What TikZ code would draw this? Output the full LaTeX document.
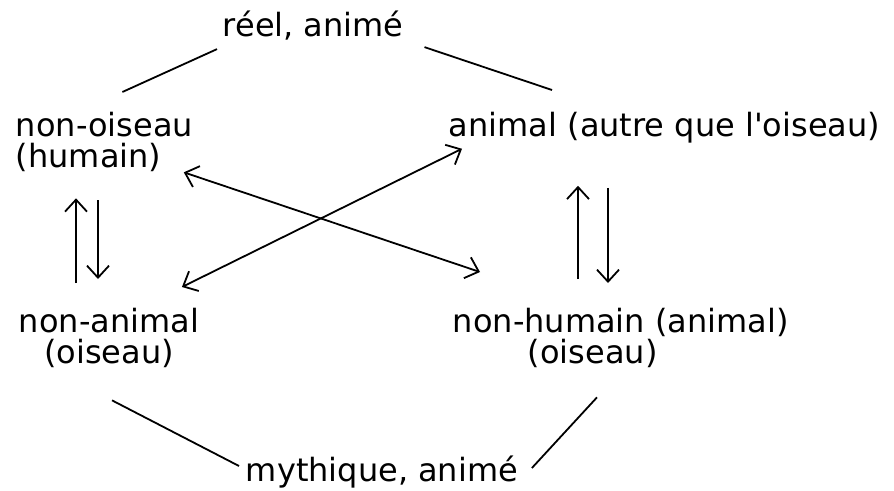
\documentclass[tikz,border=0pt]{standalone}
\usepackage{fontspec}
\setmainfont{DejaVu Sans}
\usetikzlibrary{arrows.meta}
\tikzstyle{lbl}=[inner sep=0pt,
                 font=\fontsize{32}{31}\selectfont]
\tikzstyle{tie}=[line width=1.8pt]

\begin{document}
\begin{tikzpicture}[x=1pt,y=-1pt,line width=1.8pt,
  >={Straight Barb[length=12pt,width=22pt]}]
\useasboundingbox (0,0) rectangle (894,490);

% labels
\node[lbl,anchor=north west] (re) at (222,10) {réel, animé};
\node[lbl,anchor=north west,align=left] (no) at (15,111) {non-oiseau\\(humain)};
\node[lbl,anchor=north west] (an) at (448,111) {animal (autre que l\textquotesingle oiseau)};
\node[lbl,anchor=north west,align=center] (na) at (18,307) {non-animal\\(oiseau)};
\node[lbl,anchor=north west,align=left] (nh) at (452,307) {non-humain (animal)\\\hspace*{75pt}(oiseau)};
\node[lbl,anchor=north west] (my) at (245,455) {mythique, animé};

% top and bottom ties
\path[tie] ([shift={(-5,8)}]re.south west) edge ([shift={(18,-19)}]no.north);
\path[tie] ([shift={(20,6)}]re.south east) edge ([shift={(104,-21)}]an.north west);
\path[tie] ([shift={(94,32)}]na.south west) edge ([shift={(-6,11)}]my.north west);
\path[tie] ([shift={(145,29)}]nh.south west) edge ([shift={(13,13)}]my.north east);

% vertical arrows
\path[->] ([shift={(58,-24)}]na.north west) edge ([shift={(61,26)}]no.south west);
\path[->] ([shift={(83,28)}]no.south west) edge ([shift={(80,-28)}]na.north west);
\path[->] ([shift={(126,-28)}]nh.north west) edge ([shift={(130,42)}]an.south west);
\path[->] ([shift={(160,44)}]an.south west) edge ([shift={(156,-24)}]nh.north west);

% crossing arrows
\path[<->] ([shift={(-10,0)}]no.south east) edge ([shift={(28,-35)}]nh.north west);
\path[<->] ([shift={(-18,-20)}]na.north east) edge ([shift={(14,5)}]an.south west);

\end{tikzpicture}
\end{document}
